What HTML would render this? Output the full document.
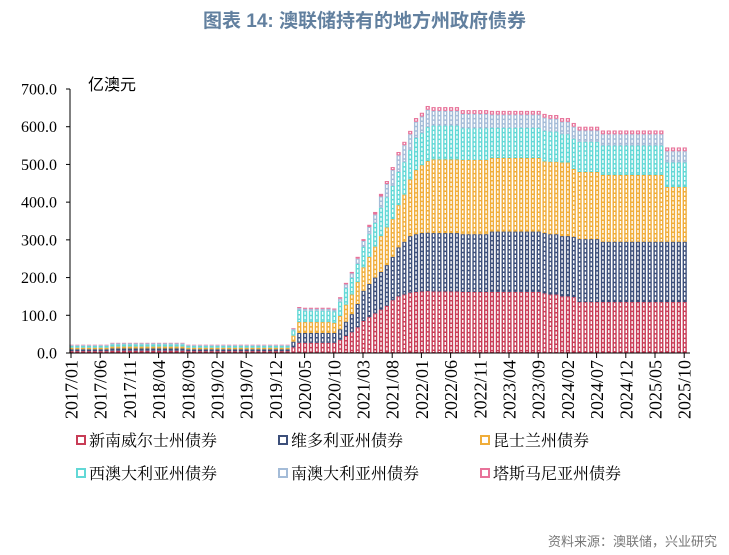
<!DOCTYPE html>
<html><head><meta charset="utf-8">
<style>
body{margin:0;background:#fff;width:729px;height:555px;overflow:hidden;font-family:"Liberation Serif","Noto Serif CJK SC",serif;}
#title{position:absolute;left:0;width:729px;top:6px;text-align:center;font-family:"Liberation Sans","Noto Sans CJK SC",sans-serif;font-weight:bold;font-size:19px;color:#62809f;}
#src{position:absolute;right:12px;top:531px;font-family:"Liberation Sans","Noto Sans CJK SC",sans-serif;font-size:13px;color:#777;}
</style></head><body>
<div id="title">图表 14: 澳联储持有的地方州政府债券</div>
<svg id="chart" width="729" height="555" style="position:absolute;left:0;top:0"></svg>
<div id="src">资料来源：澳联储，兴业研究</div>
<script>
const seriesNames=["新南威尔士州债券","维多利亚州债券","昆士兰州债券","西澳大利亚州债券","南澳大利亚州债券","塔斯马尼亚州债券"];
const colors=["#c83c56","#3d4f7a","#f0ad3a","#62d8d6","#a4bcd8","#e8739a"];
const yTicks=[0,100,200,300,400,500,600,700];
const nsw=[5,5,5,5,5,5,5,6,6,6,6,6,6,6,6,6,6,6,6,6,5,5,5,5,5,5,5,5,5,5,5,5,5,5,5,5,5,5,15,27,27,27,27,27,27,27,35,45,55,68,85,95,105,115,125,140,150,155,160,162,163,164,163,163,163,163,163,162,162,162,162,162,162,162,162,162,162,162,162,162,162,158,155,155,150,150,148,135,135,135,135,135,135,135,135,135,135,135,135,135,135,135,135,135,135,135];
const vic=[5,5,5,5,5,5,5,6,6,6,6,6,6,6,6,6,6,6,6,6,5,5,5,5,5,5,5,5,5,5,5,5,5,5,5,5,5,5,15,26,26,26,26,26,26,26,28,38,48,62,80,88,95,100,108,115,130,140,150,153,155,155,155,155,155,155,155,153,153,153,153,153,160,160,160,160,160,160,160,160,160,160,160,160,160,160,160,167,167,167,167,160,160,160,160,160,160,160,160,160,160,160,160,160,160,160];
const qld=[4,4,4,4,4,4,4,5,5,5,5,5,5,5,5,5,5,5,5,5,4,4,4,4,4,4,4,4,4,4,4,4,4,4,4,4,4,4,16,29,29,29,29,29,29,27,35,45,52,58,62,72,82,95,100,100,112,125,150,170,180,190,195,195,195,195,195,197,197,197,197,197,195,195,195,195,195,195,195,195,195,190,192,192,195,195,180,178,178,178,178,177,177,177,177,177,177,177,177,177,177,177,145,145,145,145];
const wa=[5,5,5,5,5,5,5,6,6,6,6,6,6,6,6,6,6,6,6,6,5,5,5,5,5,5,5,5,5,5,5,5,5,5,5,5,5,5,14,32,30,30,30,30,30,30,38,44,44,48,54,60,63,75,80,88,88,86,78,85,85,90,90,90,90,90,90,84,84,84,84,84,80,80,80,80,80,80,80,80,80,81,80,80,75,75,80,80,80,80,80,78,78,78,78,78,78,78,78,78,78,78,65,65,65,65];
const sa=[2,2,2,2,2,2,2,3,3,3,3,3,3,3,3,3,3,3,3,3,2,2,2,2,2,2,2,2,2,2,2,2,2,2,2,2,2,2,4,5,5,5,5,5,5,5,8,10,12,14,16,19,22,30,35,42,44,45,42,43,44,46,39,39,39,39,39,38,38,38,38,38,35,35,35,35,35,35,35,35,35,35,34,34,33,33,32,30,30,30,30,30,30,30,30,30,30,30,30,30,30,30,30,30,30,30];
const tas=[1,1,1,1,1,1,1,1,1,1,1,1,1,1,1,1,1,1,1,1,1,1,1,1,1,1,1,1,1,1,1,1,1,1,1,1,1,1,2,3,3,3,3,3,3,3,4,4,4,5,5,6,7,7,8,8,9,9,9,10,10,10,10,10,10,10,10,10,10,10,10,10,10,10,10,10,10,10,10,10,10,10,10,10,10,10,10,10,10,10,10,10,10,10,10,10,10,10,10,10,10,10,10,10,10,10];
const series=[nsw,vic,qld,wa,sa,tas];
const startYear=2017, startMonth=1, labelEvery=5;

const NS="http://www.w3.org/2000/svg";
const svg=document.getElementById('chart');
const x0=71, dx=5.84, y0=353, yTop=89, yMax=700;
const n=nsw.length;
const xs=i=>x0+i*dx;
const ys=v=>y0-(v/yMax)*(y0-yTop);
function mk(tag,attrs){const e=document.createElementNS(NS,tag);for(const k in attrs)e.setAttribute(k,attrs[k]);svg.appendChild(e);return e;}

for(let i=0;i<n;i++){
  let cum=0;
  for(let s=0;s<series.length;s++){
    const v=series[s][i]; if(!v)continue;
    const yb=ys(cum), yt=ys(cum+v); cum+=v;
    const r=mk('rect',{x:xs(i)-1.6,y:yt,width:4.2,height:Math.max(yb-yt,0.5),fill:colors[s]});
    
    
    if(yb-yt>3){
      const l=mk('line',{x1:xs(i)+0.5,x2:xs(i)+0.5,y1:yt+1,y2:yb-1,stroke:'#fff','stroke-width':1.4,'stroke-dasharray':'3 1.5'});
      
      
    }
  }
}
const ya=mk('line',{x1:70,x2:70,y1:yTop,y2:y0,stroke:'#000','stroke-width':1});


const xa=mk('line',{x1:70,x2:690,y1:y0,y2:y0,stroke:'#000','stroke-width':1});


yTicks.forEach(t=>{
  const y=ys(t);
  const tk=mk('line',{x1:66,x2:70,y1:y,y2:y,stroke:'#000'});
  
  
  const tx=mk('text',{x:57,y:y+5.5,'text-anchor':'end','font-size':16,'font-family':'Liberation Serif, serif'});
  tx.textContent=t.toFixed(1);
  
  
});
const unit=mk('text',{x:88,y:90,'font-size':16,'font-family':'Liberation Sans, Noto Sans CJK SC, sans-serif'});
unit.textContent='亿澳元';


for(let i=0;i<n;i+=labelEvery){
  const m=(startMonth-1+i)%12+1, yr=startYear+Math.floor((startMonth-1+i)/12);
  const lab=yr+'/'+String(m).padStart(2,'0');
  const x=xs(i);
  const tk=mk('line',{x1:x,x2:x,y1:y0,y2:y0+5,stroke:'#000'});
  
  
  const tx=mk('text',{x:0,y:0,'text-anchor':'end','font-size':18,'font-family':'Liberation Serif, serif',transform:`translate(${x+6.5},${y0+7}) rotate(-90)`});
  tx.textContent=lab;
  
  
}
const lx=[77,279,481], ly=[440,473];
seriesNames.forEach((nm,k)=>{
  const x=lx[k%3], y=ly[Math.floor(k/3)];
  const g=document.createElementNS(NS,'g');svg.appendChild(g);
  
  
  const r=document.createElementNS(NS,'rect');
  r.setAttribute('x',x);r.setAttribute('y',y-4);r.setAttribute('width',8);r.setAttribute('height',8);
  r.setAttribute('fill','#fff');r.setAttribute('stroke',colors[k]);r.setAttribute('stroke-width',2);
  g.appendChild(r);
  const t=document.createElementNS(NS,'text');
  t.setAttribute('x',x+12);t.setAttribute('y',y+6);t.setAttribute('font-size',16);
  t.setAttribute('font-family','Liberation Serif, Noto Serif CJK SC, serif');
  t.textContent=nm;g.appendChild(t);
});
</script>
</body></html>
